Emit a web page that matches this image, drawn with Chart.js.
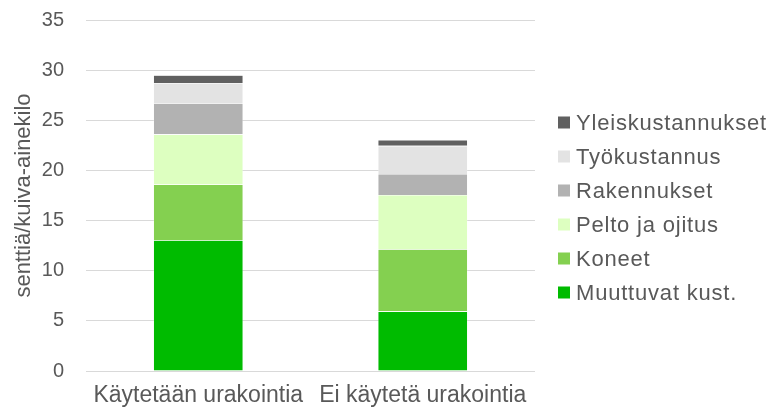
<!DOCTYPE html>
<html>
<head>
<meta charset="utf-8">
<script src="https://cdn.jsdelivr.net/npm/chart.js@4"></script>
<style>
  html, body { margin: 0; padding: 0; background: #ffffff; }
  #wrap { width: 774px; height: 415px; }
</style>
</head>
<body>
<div id="wrap"><canvas id="chart" width="774" height="415"></canvas></div>
<script>
// Categories and series (values in senttiä per kuiva-ainekilo)
const categories = ['Käytetään urakointia', 'Ei käytetä urakointia'];
const muuttuvat = [13.05, 5.95];
const koneet = [5.55, 6.2];
const pelto = [5.0, 5.4];
const rakennukset = [3.1, 2.1];
const tyokustannus = [2.0, 2.8];
const yleiskustannukset = [0.8, 0.6];

const textColor = '#595959';
const fontFamily = '"Liberation Sans", Arial, sans-serif';

function series(label, data, color) {
    return {
        label: label,
        data: data,
        backgroundColor: color,
        borderColor: 'rgba(255,255,255,0.6)',
        borderWidth: 0.6,
        barPercentage: 0.4,
        categoryPercentage: 1.0
    };
}

// The built-in legend gets squeezed to half the free width, so draw it here
const sideLegend = {
    id: 'sideLegend',
    afterDraw(chart) {
        const ctx = chart.ctx;
        const sets = chart.data.datasets;
        const step = 34;
        const midY = chart.height / 2;
        ctx.save();
        ctx.font = '22px ' + fontFamily;
        ctx.letterSpacing = '0.8px';
        ctx.textBaseline = 'middle';
        ctx.textAlign = 'left';
        for (let k = 0; k < sets.length; k++) {
            const ds = sets[sets.length - 1 - k];
            const y = midY + (k - (sets.length - 1) / 2) * step;
            ctx.fillStyle = ds.backgroundColor;
            ctx.fillRect(558, y - 6, 12, 12);
            ctx.fillStyle = textColor;
            ctx.fillText(ds.label, 576, y + 1);
        }
        ctx.restore();
    }
};

new Chart(document.getElementById('chart').getContext('2d'), {
    type: 'bar',
    data: {
        labels: categories,
        datasets: [
            series('Muuttuvat kust.', muuttuvat, '#00bb00'),
            series('Koneet', koneet, '#84d050'),
            series('Pelto ja ojitus', pelto, '#ddffc0'),
            series('Rakennukset', rakennukset, '#b2b2b2'),
            series('Työkustannus', tyokustannus, '#e3e3e3'),
            series('Yleiskustannukset', yleiskustannukset, '#606060')
        ]
    },
    plugins: [sideLegend],
    options: {
        responsive: false,
        animation: false,
        layout: { padding: { top: 0, right: 239, bottom: 5, left: 0 } },
        plugins: {
            tooltip: { enabled: false },
            legend: { display: false }
        },
        scales: {
            x: {
                stacked: true,
                grid: { display: false, drawTicks: false },
                border: { display: false },
                ticks: {
                    color: textColor,
                    font: { family: fontFamily, size: 23 },
                    maxRotation: 0,
                    autoSkip: false,
                    padding: 11
                },
                afterFit(scale) {
                    // padding is counted on both sides of the labels, keep only one
                    scale.height = 39;
                }
            },
            y: {
                stacked: true,
                min: 0,
                max: 35,
                grid: { color: '#d9d9d9', drawTicks: false },
                border: { display: false },
                ticks: {
                    stepSize: 5,
                    color: textColor,
                    font: { family: fontFamily, size: 20 },
                    padding: 22
                },
                title: {
                    display: true,
                    text: 'senttiä/kuiva-ainekilo',
                    color: textColor,
                    font: { family: fontFamily, size: 22 },
                    padding: { top: 11, bottom: 0 }
                },
                afterFit(scale) {
                    // tick padding would otherwise also be added above and below the axis
                    scale.width = 86;
                    scale.paddingTop = 20;
                    scale.paddingBottom = 0;
                }
            }
        }
    }
});
</script>
</body>
</html>
